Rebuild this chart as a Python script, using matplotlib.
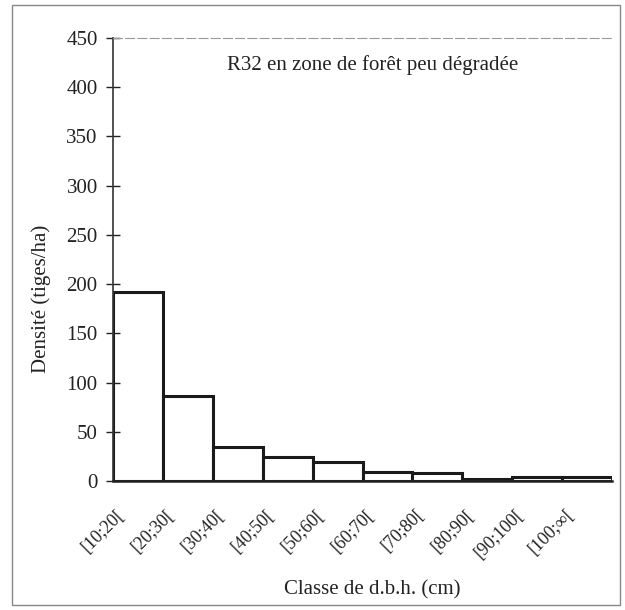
import matplotlib
matplotlib.use('Agg')
import matplotlib.pyplot as plt
import matplotlib.transforms as mtransforms
from matplotlib.patches import Rectangle
import numpy as np

# Data
classes = ['[10;20[', '[20;30[', '[30;40[', '[40;50[', '[50;60[',
           '[60;70[', '[70;80[', '[80;90[', '[90;100[', '[100;\u221e[']
densite = [192, 86.5, 35, 24.5, 19, 9.5, 7.8, 2.4, 3.8, 4.4]
y_ticks = [0, 50, 100, 150, 200, 250, 300, 350, 400, 450]

plt.rcParams['font.family'] = ['Liberation Serif', 'DejaVu Serif']

fig = plt.figure(figsize=(6.25, 6.1), dpi=100)
ax = fig.add_axes([113 / 625, 1 - 481 / 610, 499 / 625, 443 / 610])

x = np.arange(len(classes))
ax.bar(x, densite, width=1.0, color='white', edgecolor='#1a1a1a', linewidth=2.2)

ax.set_xlim(-0.5, len(classes) - 0.5)
ax.set_ylim(0, 450)
ax.set_yticks(y_ticks)
ax.tick_params(axis='y', direction='inout', length=10, width=1, pad=6,
               labelsize=15, colors='#222222')
ax.set_xticks(x)
ax.set_xticklabels(classes, rotation=45, ha='right', va='top',
                   rotation_mode='anchor', fontsize=13, color='#222222')
ax.tick_params(axis='x', length=0, pad=18)
offset = mtransforms.ScaledTranslation(-22 / 100, 0, fig.dpi_scale_trans)
for lbl in ax.get_xticklabels():
    lbl.set_transform(lbl.get_transform() + offset)

# spines
ax.spines['right'].set_visible(False)
ax.spines['top'].set_color('#999999')
ax.spines['top'].set_linestyle((0, (8, 3)))
ax.spines['top'].set_linewidth(0.8)
ax.spines['left'].set_linewidth(1.2)
ax.spines['left'].set_color('#333333')
ax.spines['bottom'].set_linewidth(1.8)
ax.spines['bottom'].set_color('#222222')

ax.set_ylabel('Densité (tiges/ha)', fontsize=15, color='#222222')
ax.yaxis.set_label_coords(-0.125, 0.41)
ax.set_xlabel('Classe de d.b.h. (cm)', fontsize=15, color='#222222')
ax.xaxis.set_label_coords(0.52, -0.225)

ax.text(0.52, 0.94, 'R32 en zone de forêt peu dégradée', transform=ax.transAxes,
        ha='center', va='center', fontsize=15, color='#222222')

# outer frame of the figure
fig.patches.append(Rectangle((12 / 625, 1 - 605 / 610), 608 / 625, 600 / 610,
                             transform=fig.transFigure, fill=False,
                             edgecolor='#888888', linewidth=1.0))

fig.savefig('out.png', dpi=100, facecolor='white')
